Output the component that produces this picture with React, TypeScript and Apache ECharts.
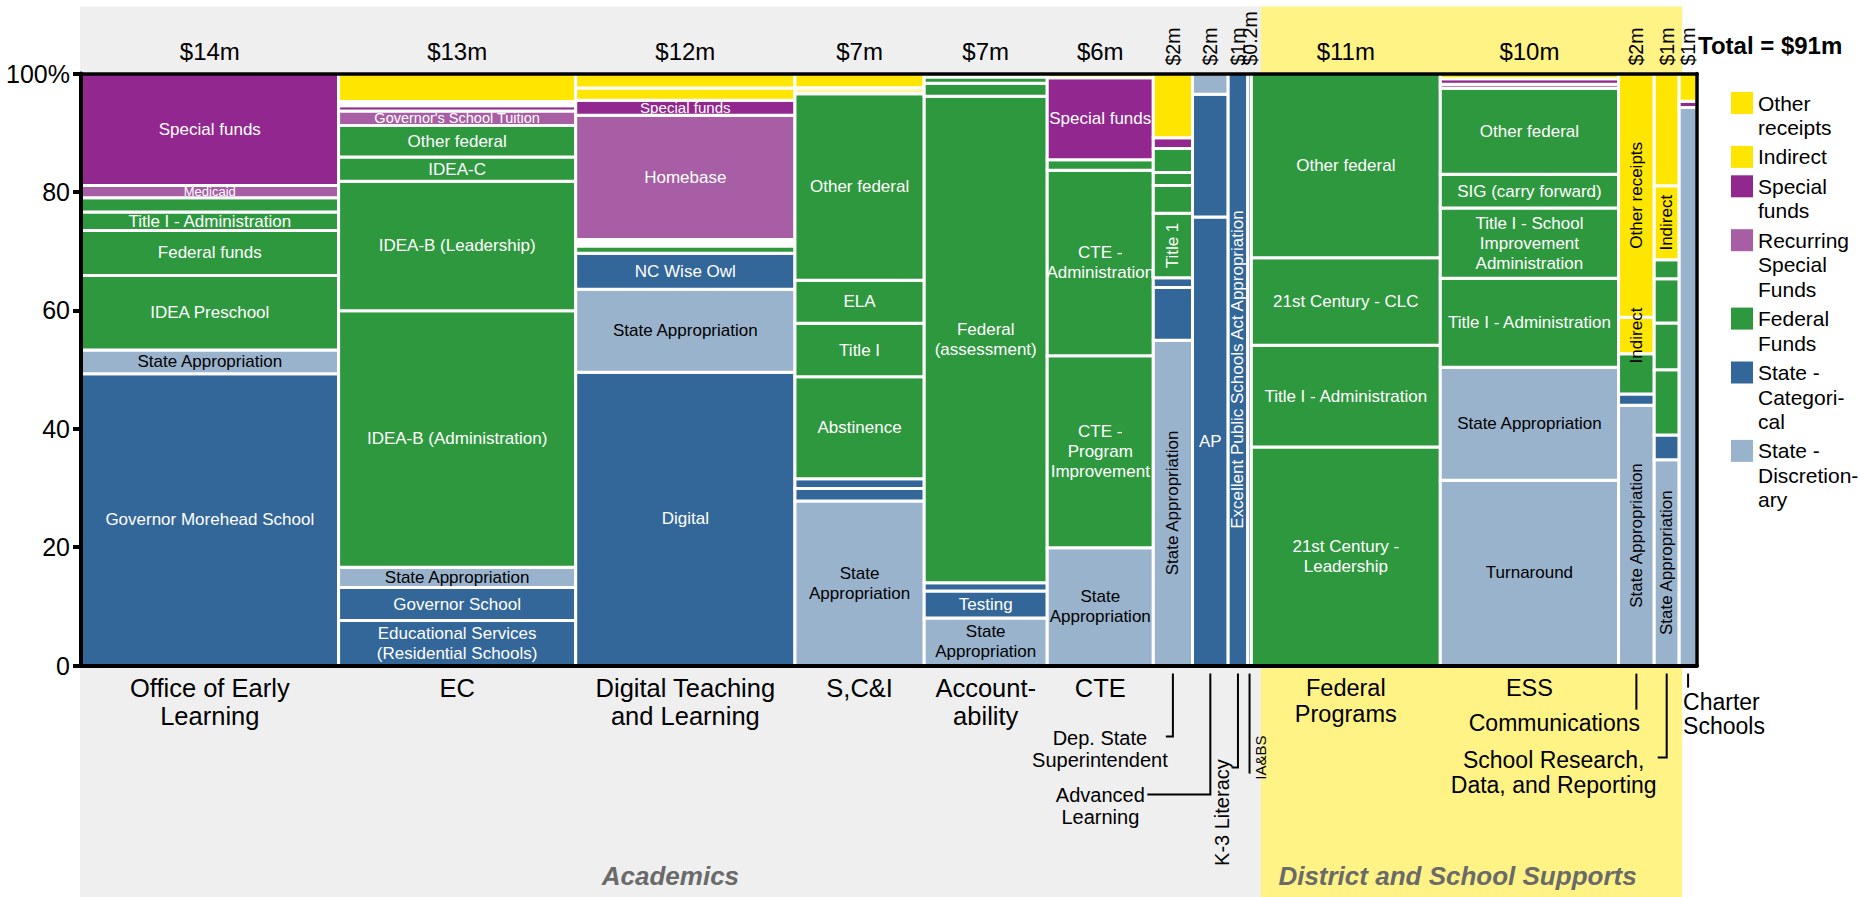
import React, { useEffect, useRef } from "react";
import * as echarts from "echarts";

// ---------------- data ----------------
const columnNames = [
  "Office of Early Learning", "EC", "Digital Teaching and Learning", "S,C&I", "Accountability", "CTE",
  "Dep. State Superintendent", "Advanced Learning", "K-3 Literacy", "IA&BS",
  "Federal Programs", "ESS", "Communications", "School Research, Data, and Reporting", "Charter Schools",
];
const columnAxisLabels = [
  "Office of Early\nLearning", "EC", "Digital Teaching\nand Learning", "S,C&I", "Account-\nability", "CTE",
  "Dep. State\nSuperintendent", "Advanced\nLearning", "K-3 Literacy", "IA&BS",
  "Federal\nPrograms", "ESS", "Communications", "School Research,\nData, and Reporting", "Charter\nSchools",
];
// budget in $ millions
const columnBudgets = [14.45, 13.3, 12.3, 7.25, 6.9, 5.95, 2.2, 2.0, 1.1, 0.2, 10.6, 10.0, 2.0, 1.4, 1.0];

const divisionNames = ["Academics", "District and School Supports"];
const divisionFirstColumn = [0, 10];
const divisionLastColumn = [9, 13];

const legendCodes = ["OR", "IN", "SF", "RS", "FF", "SC", "SD"];
const legendNames = [
  "Other\nreceipts", "Indirect", "Special\nfunds", "Recurring\nSpecial\nFunds",
  "Federal\nFunds", "State -\nCategori-\ncal", "State -\nDiscretion-\nary",
];

// segments bottom -> top: [label, fund code, share %]
const officeOfEarlyLearning = [
  ["Governor Morehead School", "SC", 49.3],
  ["State Appropriation", "SD", 4.0],
  ["IDEA Preschool", "FF", 12.6],
  ["Federal funds", "FF", 7.6],
  ["Title I - Administration", "FF", 3.1],
  ["", "FF", 2.4],
  ["Medicaid", "RS", 2.1],
  ["Special funds", "SF", 18.9],
];
const ec = [
  ["Educational Services\n(Residential Schools)", "SC", 7.6],
  ["Governor School", "SC", 5.6],
  ["State Appropriation", "SD", 3.4],
  ["IDEA-B (Administration)", "FF", 43.35],
  ["IDEA-B (Leadership)", "FF", 21.85],
  ["IDEA-C", "FF", 4.1],
  ["Other federal", "FF", 5.3],
  ["Governor's School Tuition", "RS", 2.45],
  ["", "SF", 0.9],
  ["", "WH", 0.7],
  ["", "OR", 4.75],
];
const digitalTeaching = [
  ["Digital", "SC", 49.55],
  ["State Appropriation", "SD", 14.0],
  ["NC Wise Owl", "SC", 6.1],
  ["", "FF", 1.2],
  ["", "WH", 1.1],
  ["Homebase", "RS", 21.0],
  ["Special funds", "SF", 2.55],
  ["", "IN", 2.05],
  ["", "OR", 2.45],
];
const scAndI = [
  ["State\nAppropriation", "SD", 27.8],
  ["", "SC", 2.1],
  ["", "SC", 1.65],
  ["Abstinence", "FF", 17.25],
  ["Title I", "FF", 9.0],
  ["ELA", "FF", 7.3],
  ["Other federal", "FF", 31.5],
  ["", "PY", 1.0],
  ["", "OR", 2.4],
];
const accountability = [
  ["State\nAppropriation", "SD", 8.05],
  ["Testing", "SC", 4.55],
  ["", "SC", 1.4],
  ["Federal\n(assessment)", "FF", 82.15],
  ["", "FF", 2.2],
  ["", "FF", 1.05],
  ["", "OR", 0.6],
];
const cte = [
  ["State\nAppropriation", "SD", 19.9],
  ["CTE -\nProgram\nImprovement", "FF", 32.45],
  ["CTE -\nAdministration", "FF", 31.3],
  ["", "FF", 1.8],
  ["Special funds", "SF", 13.85],
  ["", "OR", 0.7],
];
const depStateSuperintendent = [
  ["State Appropriation", "SD", 54.95],
  ["", "SC", 8.9],
  ["", "SC", 1.65],
  ["Title 1", "FF", 10.9],
  ["", "FF", 4.7],
  ["", "FF", 2.2],
  ["", "FF", 4.05],
  ["", "SF", 1.8],
  ["", "OR", 10.85],
];
const advancedLearning = [
  ["AP", "SC", 75.75],
  ["", "SC", 20.75],
  ["", "SD", 3.5],
];
const k3Literacy = [["Excellent Public Schools Act Appropriation", "SC", 100]];
const iaBs = [["", "SC", 100]];
const federalPrograms = [
  ["21st Century -\nLeadership", "FF", 36.9],
  ["Title I - Administration", "FF", 17.2],
  ["21st Century - CLC", "FF", 14.8],
  ["Other federal", "FF", 31.1],
];
const ess = [
  ["Turnaround", "SD", 31.3],
  ["State Appropriation", "SD", 19.1],
  ["Title I - Administration", "FF", 15.0],
  ["Title I - School\nImprovement\nAdministration", "FF", 11.9],
  ["SIG (carry forward)", "FF", 5.7],
  ["Other federal", "FF", 14.5],
  ["", "RS", 0.7],
  ["", "SF", 0.9],
  ["", "OR", 0.9],
];
const communications = [
  ["State Appropriation", "SD", 43.95],
  ["", "SC", 1.9],
  ["", "FF", 6.8],
  ["Indirect", "IN", 6.2],
  ["Other receipts", "OR", 41.15],
];
const schoolResearch = [
  ["State Appropriation", "SD", 34.75],
  ["", "SC", 4.2],
  ["", "FF", 11.0],
  ["", "FF", 7.9],
  ["", "FF", 7.5],
  ["", "FF", 3.2],
  ["Indirect", "IN", 12.5],
  ["", "OR", 18.95],
];
const charterSchools = [
  ["", "SD", 94.25],
  ["", "SF", 1.05],
  ["", "OR", 4.7],
];

const columnSegments: any[][] = [
  officeOfEarlyLearning, ec, digitalTeaching, scAndI, accountability, cte,
  depStateSuperintendent, advancedLearning, k3Literacy, iaBs,
  federalPrograms, ess, communications, schoolResearch, charterSchools,
];

// ---------------- styles ----------------
const FONT = '"Liberation Sans", Arial, Helvetica, sans-serif';
const fundColors: Record<string, string> = {
  OR: "#FFE600",
  IN: "#FFE600",
  SF: "#92278F",
  RS: "#A75EA4",
  FF: "#2E983E",
  SC: "#336699",
  SD: "#9AB3CD",
  PY: "#FFF59D",
  WH: "#FFFFFF",
};
const darkTextCodes = new Set(["OR", "IN", "SD", "PY", "WH"]);
const divisionColors = ["#EFEFEF", "#FFF385"];

const GRID_LEFT = 81;
const GRID_RIGHT = 163;
const GRID_TOP = 73.5;
const GRID_BOTTOM = 231.4;
const PLOT_RIGHT = 1860 - GRID_RIGHT;

let measureCtx: CanvasRenderingContext2D | null = null;
function textWidth(text: string, size: number, weight = "normal") {
  if (!measureCtx) measureCtx = document.createElement("canvas").getContext("2d");
  if (!measureCtx) return text.length * size * 0.5;
  measureCtx.font = `${weight} ${size}px ${FONT}`;
  return Math.max(...text.split("\n").map((l) => measureCtx!.measureText(l).width));
}

function buildOption() {
  const total = columnBudgets.reduce((a, b) => a + b, 0);
  const colStarts: number[] = [];
  let acc = 0;
  columnBudgets.forEach((b) => {
    colStarts.push(acc);
    acc += b;
  });

  const segmentData: number[][] = [];
  columnSegments.forEach((segs, c) => {
    let y = 0;
    segs.forEach((s, i) => {
      segmentData.push([colStarts[c], colStarts[c] + columnBudgets[c], y, y + (s[2] as number), c, i]);
      y += s[2] as number;
    });
  });

  const columnLabelData = columnBudgets.map((b, c) => [colStarts[c] + b / 2, 50, c]);
  const divisionData = divisionNames.map((_, d) => [
    colStarts[divisionFirstColumn[d]],
    colStarts[divisionLastColumn[d]] + columnBudgets[divisionLastColumn[d]],
    d,
  ]);

  const fmtBudget = (v: number) => (v < 0.5 ? `$${v}m` : `$${Math.round(v)}m`);

  // legend & total as graphic
  const graphics: any[] = [];
  let ly = GRID_TOP + 29.5;
  const LH = 24.5;
  legendNames.forEach((name, i) => {
    const n = name.split("\n").length;
    graphics.push({
      type: "rect",
      shape: { x: PLOT_RIGHT + 34, y: ly - 11, width: 22, height: 22 },
      style: { fill: fundColors[legendCodes[i]] },
    });
    graphics.push({
      type: "text",
      x: PLOT_RIGHT + 61,
      y: ly - LH / 2,
      style: {
        text: name, fill: "#000", fontSize: 21, fontFamily: FONT,
        lineHeight: LH, align: "left", verticalAlign: "top",
      },
    });
    ly += (n - 1) * LH + 29.4;
  });
  graphics.push({
    type: "text",
    x: PLOT_RIGHT + 1,
    y: 45,
    style: {
      text: `Total = $${Math.round(total)}m`, fill: "#000", fontSize: 24, fontWeight: "bold",
      fontFamily: FONT, align: "left", verticalAlign: "middle",
    },
  });

  const lineStyle = { stroke: "#000", lineWidth: 2, fill: "none" };

  const segGeom = (api: any) => {
    const p0 = api.coord([api.value(0), api.value(3)]);
    const p1 = api.coord([api.value(1), api.value(2)]);
    return { x: p0[0], y: p0[1], w: p1[0] - p0[0], h: p1[1] - p0[1] };
  };

  return {
    animation: false,
    backgroundColor: "#ffffff",
    grid: { left: GRID_LEFT, right: GRID_RIGHT, top: GRID_TOP, bottom: GRID_BOTTOM, show: false },
    xAxis: [
      {
        type: "value", min: 0, max: total, z: 10,
        axisLine: { show: true, onZero: false, lineStyle: { color: "#000", width: 4 } },
        axisTick: { show: false }, axisLabel: { show: false }, splitLine: { show: false },
      },
      {
        type: "value", min: 0, max: total, position: "top", z: 10,
        axisLine: { show: true, onZero: false, lineStyle: { color: "#000", width: 3.5 } },
        axisTick: { show: false }, axisLabel: { show: false }, splitLine: { show: false },
      },
    ],
    yAxis: [
      {
        type: "value", min: 0, max: 100, interval: 20, z: 10,
        axisLine: { show: true, onZero: false, lineStyle: { color: "#000", width: 4 } },
        axisTick: { show: true, length: 8, lineStyle: { color: "#000", width: 4 } },
        axisLabel: {
          color: "#000", fontSize: 25, fontFamily: FONT, margin: 11,
          formatter: (v: number) => (v === 100 ? "100%" : String(v)),
        },
        splitLine: { show: false },
      },
      {
        type: "value", min: 0, max: 100, position: "right", z: 10,
        axisLine: { show: true, onZero: false, lineStyle: { color: "#000", width: 3.5 } },
        axisTick: { show: false }, axisLabel: { show: false }, splitLine: { show: false },
      },
    ],
    graphic: graphics,
    series: [
      // division backgrounds
      {
        type: "custom",
        name: "divisions",
        z: 1,
        clip: false,
        silent: true,
        encode: { x: [0, 1] },
        data: divisionData,
        renderItem: (params: any, api: any) => {
          const d = api.value(2) as number;
          const p0 = api.coord([api.value(0), 100]);
          const p1 = api.coord([api.value(1), 0]);
          const x0 = p0[0] + (d === 0 ? -1 : 9.5);
          const x1 = p1[0] + (d === 0 ? 9.5 : 3);
          const top = p0[1] - 67;
          const H = api.getHeight();
          return {
            type: "group",
            children: [
              { type: "rect", shape: { x: x0, y: top, width: x1 - x0, height: H - top }, style: { fill: divisionColors[d] } },
              {
                type: "text", x: (x0 + x1) / 2 - (d === 1 ? 14 : 0), y: H - 21,
                style: {
                  text: divisionNames[d], fill: "#6A6A6A", fontSize: 26, fontWeight: "bold", fontStyle: "italic",
                  fontFamily: FONT, align: "center", verticalAlign: "middle",
                },
              },
            ],
          };
        },
      },
      // segment rectangles
      {
        type: "custom",
        name: "segments",
        z: 2,
        clip: false,
        encode: { x: [0, 1], y: [2, 3] },
        data: segmentData,
        renderItem: (params: any, api: any) => {
          const c = api.value(4) as number;
          const i = api.value(5) as number;
          const code = columnSegments[c][i][1] as string;
          const g = segGeom(api);
          return {
            type: "rect",
            shape: { x: g.x, y: g.y, width: g.w, height: g.h },
            style: { fill: fundColors[code], stroke: "#ffffff", lineWidth: 3 },
          };
        },
      },
      // segment labels (drawn above all rectangles)
      {
        type: "custom",
        name: "segmentLabels",
        z: 3,
        clip: false,
        silent: true,
        encode: { x: [0, 1], y: [2, 3] },
        data: segmentData,
        renderItem: (params: any, api: any) => {
          const c = api.value(4) as number;
          const i = api.value(5) as number;
          const seg = columnSegments[c][i];
          const code = seg[1] as string;
          const label = seg[0] as string;
          if (!label) return { type: "group", children: [] };
          const g = segGeom(api);
          let fs = 17;
          const tw = textWidth(label, fs);
          const rotate = g.w < 45 && tw > g.w - 4;
          if (!rotate && label.indexOf("\n") < 0) fs = Math.min(17, Math.max(13, g.h));
          return {
            type: "text",
            x: g.x + g.w / 2,
            y: g.y + g.h / 2,
            rotation: rotate ? Math.PI / 2 : 0,
            style: {
              text: label, fill: darkTextCodes.has(code) ? "#000" : "#fff",
              fontSize: fs, fontFamily: FONT, lineHeight: 20, align: "center", verticalAlign: "middle",
            },
          };
        },
      },
      // column headers and axis labels
      {
        type: "custom",
        name: "columnLabels",
        z: 3,
        clip: false,
        silent: true,
        encode: { x: 0, y: 1 },
        data: columnLabelData,
        renderItem: (params: any, api: any) => {
          const c = api.value(2) as number;
          const pTop = api.coord([api.value(0), 100]);
          const pBot = api.coord([api.value(0), 0]);
          const cx = pTop[0];
          const top = pTop[1];
          const b = pBot[1];
          const w = api.coord([colStarts[c] + columnBudgets[c], 0])[0] - api.coord([colStarts[c], 0])[0];
          const children: any[] = [];
          const head = fmtBudget(columnBudgets[c]);
          if (w > 45) {
            children.push({
              type: "text", x: cx, y: top - 22.5,
              style: { text: head, fill: "#000", fontSize: 24, fontFamily: FONT, align: "center", verticalAlign: "middle" },
            });
          } else {
            children.push({
              type: "text", x: cx, y: top - 8, rotation: Math.PI / 2,
              style: { text: head, fill: "#000", fontSize: 19.5, fontFamily: FONT, align: "left", verticalAlign: "middle" },
            });
          }
          const lbl = columnAxisLabels[c];
          const block = (x: number, firstY: number, size: number, lh: number, align = "center") => ({
            type: "text", x, y: firstY - lh / 2,
            style: { text: lbl, fill: "#000", fontSize: size, fontFamily: FONT, lineHeight: lh, align, verticalAlign: "top" },
          });
          const line = (pts: number[][]) => ({ type: "polyline", shape: { points: pts }, style: lineStyle });
          switch (c) {
            case 6:
              children.push(line([[cx, b + 8], [cx, b + 71], [cx - 7, b + 71]]));
              children.push(block(cx - 73, b + 72, 20, 22));
              break;
            case 7:
              children.push(line([[cx, b + 8], [cx, b + 129], [cx - 63, b + 129]]));
              children.push(block(cx - 110, b + 129, 20, 22));
              break;
            case 8:
              children.push(line([[cx, b + 8], [cx, b + 102], [cx - 5, b + 102]]));
              children.push({
                type: "text", x: cx - 16, y: b + 147, rotation: Math.PI / 2,
                style: { text: lbl, fill: "#000", fontSize: 20, fontFamily: FONT, align: "center", verticalAlign: "middle" },
              });
              break;
            case 9:
              children.push(line([[cx, b + 8], [cx, b + 108]]));
              children.push({
                type: "text", x: cx + 11, y: b + 92, rotation: Math.PI / 2,
                style: { text: lbl, fill: "#000", fontSize: 15, fontFamily: FONT, align: "center", verticalAlign: "middle" },
              });
              break;
            case 12:
              children.push(line([[cx, b + 8], [cx, b + 44]]));
              children.push(block(cx - 82, b + 57, 23, 25));
              break;
            case 13:
              children.push(line([[cx, b + 8], [cx, b + 92], [cx - 9, b + 92]]));
              children.push(block(cx - 113, b + 94, 23, 25));
              break;
            case 14:
              children.push(line([[cx, b + 8], [cx, b + 22]]));
              children.push(block(cx - 5, b + 36, 23, 24, "left"));
              break;
            default:
              if (c <= 5) children.push(block(cx, b + 22, 25.5, 28));
              else children.push(block(cx, b + 22, 23.5, 26));
          }
          return { type: "group", children };
        },
      },
    ],
  };
}

export default function App() {
  const ref = useRef<HTMLDivElement>(null);
  useEffect(() => {
    if (!ref.current) return;
    const chart = echarts.init(ref.current, undefined, { renderer: "svg" });
    chart.setOption(buildOption() as any);
    return () => chart.dispose();
  }, []);
  return (
    <div
      ref={ref}
      style={{ position: "absolute", left: 0, top: 0, width: 1860, height: 897, background: "#fff" }}
      aria-label={`Budget by division: ${columnNames.join(", ")}`}
    />
  );
}
